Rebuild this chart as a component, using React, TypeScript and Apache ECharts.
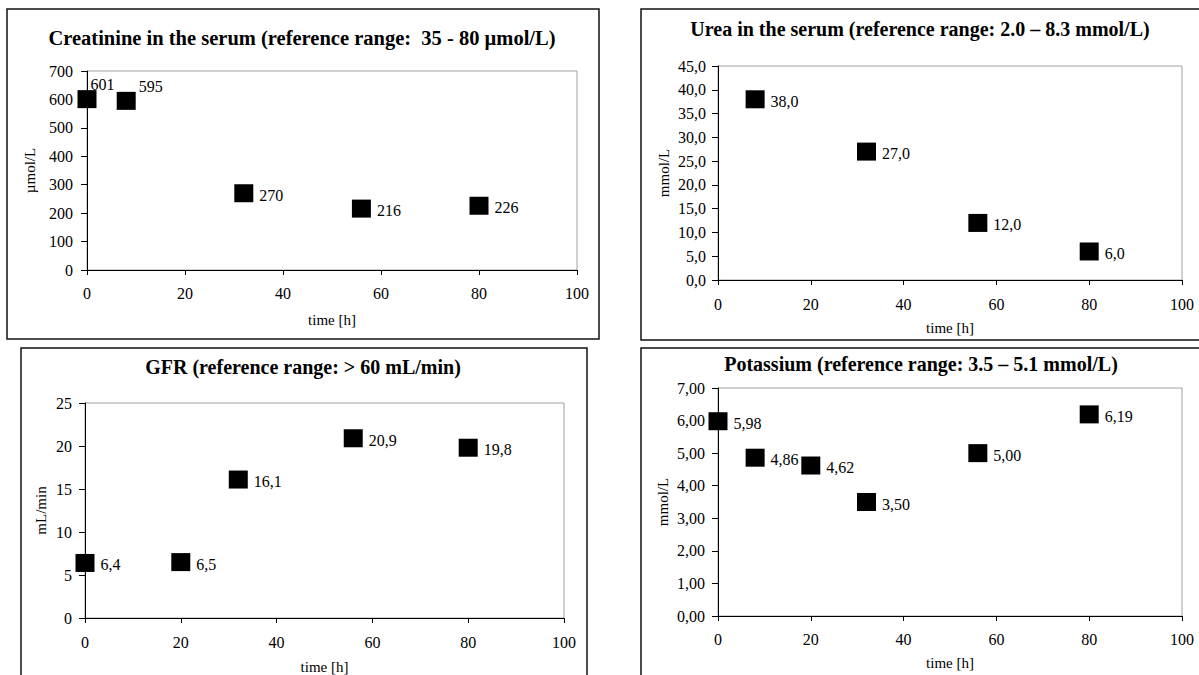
import React, { useEffect, useRef } from "react";
import * as echarts from "echarts";

const FONT = "'Liberation Serif', 'Times New Roman', Times, serif";

// ---- data ----
const timeMin = 0;
const timeMax = 100;
const timeStep = 20;

const creatTitle = "Creatinine in the serum (reference range:  35 - 80 µmol/L)";
const creatUnit = "µmol/L";
const creatTime = [0, 8, 32, 56, 80];
const creatValues = [601, 595, 270, 216, 226];
const creatAxis = [0, 700, 100];

const ureaTitle = "Urea in the serum (reference range: 2.0 – 8.3 mmol/L)";
const ureaUnit = "mmol/L";
const ureaTime = [8, 32, 56, 80];
const ureaValues = [38.0, 27.0, 12.0, 6.0];
const ureaAxis = [0, 45, 5];

const gfrTitle = "GFR (reference range: > 60 mL/min)";
const gfrUnit = "mL/min";
const gfrTime = [0, 20, 32, 56, 80];
const gfrValues = [6.4, 6.5, 16.1, 20.9, 19.8];
const gfrAxis = [0, 25, 5];

const kTitle = "Potassium (reference range: 3.5 – 5.1 mmol/L)";
const kUnit = "mmol/L";
const kTime = [0, 8, 20, 32, 56, 80];
const kValues = [5.98, 4.86, 4.62, 3.5, 5.0, 6.19];
const kAxis = [0, 7, 1];

const xName = "time [h]";

const fmt = (v: number, d: number) => v.toFixed(d).replace(".", ",");

type Panel = {
  title: string;
  unit: string;
  time: number[];
  values: number[];
  axis: number[];
  dec: number;
  tickDec: number;
  grid: { left: number; top: number; width: number; height: number };
  titleX: number;
  titleY: number;
  titleSize: number;
  xLabelMargin: number;
  xNameGap: number;
  yLabelMargin: number;
  yNameGap: number;
  labelOverrides?: Record<number, number[]>;
};

const panels: Panel[] = [
  {
    title: creatTitle,
    unit: creatUnit,
    time: creatTime,
    values: creatValues,
    axis: creatAxis,
    dec: 0,
    tickDec: 0,
    grid: { left: 87, top: 71, width: 490, height: 199 },
    titleX: 302,
    titleY: 27,
    titleSize: 20.5,
    xLabelMargin: 15,
    xNameGap: 42,
    yLabelMargin: 14,
    yNameGap: 50,
    labelOverrides: { 0: [-12, -15], 1: [-3, -14] },
  },
  {
    title: ureaTitle,
    unit: ureaUnit,
    time: ureaTime,
    values: ureaValues,
    axis: ureaAxis,
    dec: 1,
    tickDec: 1,
    grid: { left: 718, top: 66, width: 464, height: 214 },
    titleX: 920,
    titleY: 19,
    titleSize: 20,
    xLabelMargin: 16,
    xNameGap: 40,
    yLabelMargin: 12,
    yNameGap: 47,
  },
  {
    title: gfrTitle,
    unit: gfrUnit,
    time: gfrTime,
    values: gfrValues,
    axis: gfrAxis,
    dec: 1,
    tickDec: 0,
    grid: { left: 85, top: 403, width: 479, height: 215 },
    titleX: 303,
    titleY: 357,
    titleSize: 20,
    xLabelMargin: 16,
    xNameGap: 41,
    yLabelMargin: 13,
    yNameGap: 37,
  },
  {
    title: kTitle,
    unit: kUnit,
    time: kTime,
    values: kValues,
    axis: kAxis,
    dec: 2,
    tickDec: 2,
    grid: { left: 718, top: 388, width: 464, height: 228 },
    titleX: 921,
    titleY: 354,
    titleSize: 20,
    xLabelMargin: 15,
    xNameGap: 39,
    yLabelMargin: 13,
    yNameGap: 48,
  },
];

const frames = [
  { x: 7, y: 9, w: 592, h: 330 },
  { x: 641, y: 9, w: 600, h: 331 },
  { x: 21, y: 348, w: 566, h: 340 },
  { x: 641, y: 348, w: 600, h: 340 },
];

export default function App() {
  const ref = useRef<HTMLDivElement>(null);
  useEffect(() => {
    if (!ref.current) return;
    const chart = echarts.init(ref.current, undefined, { renderer: "svg" });
    const option: any = {
      animation: false,
      backgroundColor: "#ffffff",
      title: panels.map((p) => ({
        text: p.title,
        left: p.titleX,
        top: p.titleY,
        textAlign: "center",
        padding: 0,
        textStyle: {
          fontFamily: FONT,
          fontWeight: "bold",
          fontSize: p.titleSize,
          color: "#000",
        },
      })),
      grid: panels.map((p) => ({
        ...p.grid,
        show: true,
        borderColor: "#a0a0a0",
        borderWidth: 1,
        backgroundColor: "transparent",
        containLabel: false,
      })),
      xAxis: panels.map((p, i) => ({
        type: "value",
        gridIndex: i,
        min: timeMin,
        max: timeMax,
        interval: timeStep,
        name: xName,
        nameLocation: "middle",
        nameGap: p.xNameGap,
        nameTextStyle: { fontFamily: FONT, fontSize: 15, color: "#000" },
        axisLine: { show: true, onZero: false, lineStyle: { color: "#000", width: 1 } },
        axisTick: { show: true, inside: false, length: 5, lineStyle: { color: "#000" } },
        axisLabel: { fontFamily: FONT, fontSize: 16, color: "#000", margin: p.xLabelMargin },
        splitLine: { show: false },
      })),
      yAxis: panels.map((p, i) => ({
        type: "value",
        gridIndex: i,
        min: p.axis[0],
        max: p.axis[1],
        interval: p.axis[2],
        name: p.unit,
        nameLocation: "middle",
        nameGap: p.yNameGap,
        nameTextStyle: { fontFamily: FONT, fontSize: 15, color: "#000" },
        axisLine: { show: true, onZero: false, lineStyle: { color: "#000", width: 1 } },
        axisTick: { show: true, inside: false, length: 6, lineStyle: { color: "#000" } },
        axisLabel: {
          fontFamily: FONT,
          fontSize: 16,
          color: "#000",
          margin: p.yLabelMargin,
          formatter: (v: number) => fmt(v, p.tickDec),
        },
        splitLine: { show: false },
      })),
      series: panels.map((p, i) => ({
        type: "scatter",
        xAxisIndex: i,
        yAxisIndex: i,
        symbol: "rect",
        symbolSize: [19, 18],
        itemStyle: { color: "#000", opacity: 1 },
        label: {
          show: true,
          position: "right",
          distance: 6,
          offset: [0, 2],
          fontFamily: FONT,
          fontSize: 16,
          color: "#000",
          formatter: (d: any) => fmt(d.value[1], p.dec),
        },
        data: p.time.map((t, j) => {
          const o = p.labelOverrides && p.labelOverrides[j];
          const item: any = { value: [t, p.values[j]] };
          if (o) item.label = { offset: o };
          return item;
        }),
      })),
      graphic: frames.map((f) => ({
        type: "rect",
        shape: { x: f.x, y: f.y, width: f.w, height: f.h },
        style: { fill: "none", stroke: "#111", lineWidth: 1.5 },
        silent: true,
        z: 100,
      })),
    };
    chart.setOption(option);
    return () => chart.dispose();
  }, []);
  return (
    <div
      ref={ref}
      style={{ position: "absolute", left: 0, top: 0, width: 1199, height: 675 }}
    />
  );
}
